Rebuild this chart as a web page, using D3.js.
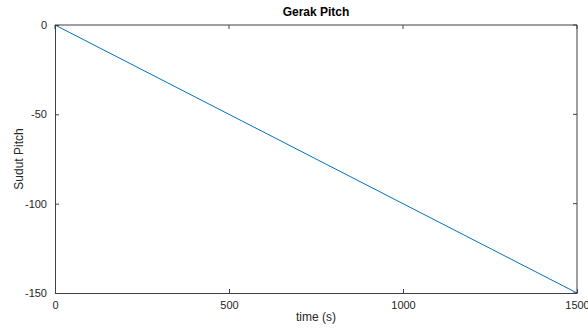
<!DOCTYPE html>
<html><head><meta charset="utf-8">
<script src="https://cdn.jsdelivr.net/npm/d3@7"></script>
<style>body{margin:0;background:#fff}svg{display:block}text{font-family:"Liberation Sans",Arial,sans-serif}</style>
</head><body>
<svg id="c" width="588" height="331"></svg>
<script>
const timeVals = [0, 1500];
const pitchVals = [0, -150];
const xTicks = [0, 500, 1000, 1500];
const yTicks = [0, -50, -100, -150];

const svg = d3.select("#c");
const L = 55, R = 577, T = 25, B = 293;
const x = d3.scaleLinear().domain([0, 1500]).range([L, R]);
const y = d3.scaleLinear().domain([-150, 0]).range([B, T]);
const ax = "#404040";

svg.append("rect").attr("x", L).attr("y", T).attr("width", R - L).attr("height", B - T)
  .attr("fill", "#fff").attr("stroke", "none");

const line = d3.line().x((d, i) => x(timeVals[i])).y(d => y(d));
svg.append("path").datum(pitchVals).attr("d", line).attr("fill", "none")
  .attr("stroke", "#0072BD").attr("stroke-width", 1);

const xAxis = svg.append("g").attr("transform", `translate(0,${B})`)
  .call(d3.axisBottom(x).tickValues(xTicks).tickSizeInner(-4).tickSizeOuter(0).tickPadding(8).tickFormat(d3.format("d")));
const yAxis = svg.append("g").attr("transform", `translate(${L},0)`)
  .call(d3.axisLeft(y).tickValues(yTicks).tickSizeInner(-4).tickSizeOuter(0).tickPadding(8).tickFormat(d => d === 0 ? "0" : "-" + Math.abs(d)));
[xAxis, yAxis].forEach(g => {
  g.select(".domain").attr("stroke", ax);
  g.selectAll(".tick line").attr("stroke", ax);
  g.selectAll(".tick text").attr("fill", "#262626").attr("font-size", 11).attr("font-family", "Liberation Sans, Arial, sans-serif");
});
// top and right box edges
svg.append("line").attr("x1", L).attr("x2", R).attr("y1", T).attr("y2", T).attr("stroke", ax);
svg.append("line").attr("x1", R).attr("x2", R).attr("y1", T).attr("y2", B).attr("stroke", ax);
// mirrored ticks
svg.selectAll(".tt").data(xTicks).enter().append("line")
  .attr("x1", d => x(d)).attr("x2", d => x(d)).attr("y1", T).attr("y2", T + 4).attr("stroke", ax);
svg.selectAll(".rt").data(yTicks).enter().append("line")
  .attr("x1", R).attr("x2", R - 4).attr("y1", d => y(d)).attr("y2", d => y(d)).attr("stroke", ax);

svg.append("text").attr("x", (L + R) / 2).attr("y", 16).attr("text-anchor", "middle")
  .attr("font-size", 12).attr("font-weight", "bold").attr("fill", "#000").text("Gerak Pitch");
svg.append("text").attr("x", (L + R) / 2).attr("y", 321).attr("text-anchor", "middle")
  .attr("font-size", 12).attr("fill", "#262626").text("time (s)");
svg.append("text").attr("transform", `translate(23,${(T + B) / 2}) rotate(-90)`).attr("text-anchor", "middle")
  .attr("font-size", 12).attr("fill", "#262626").text("Sudut Pitch");
</script>
</body></html>
